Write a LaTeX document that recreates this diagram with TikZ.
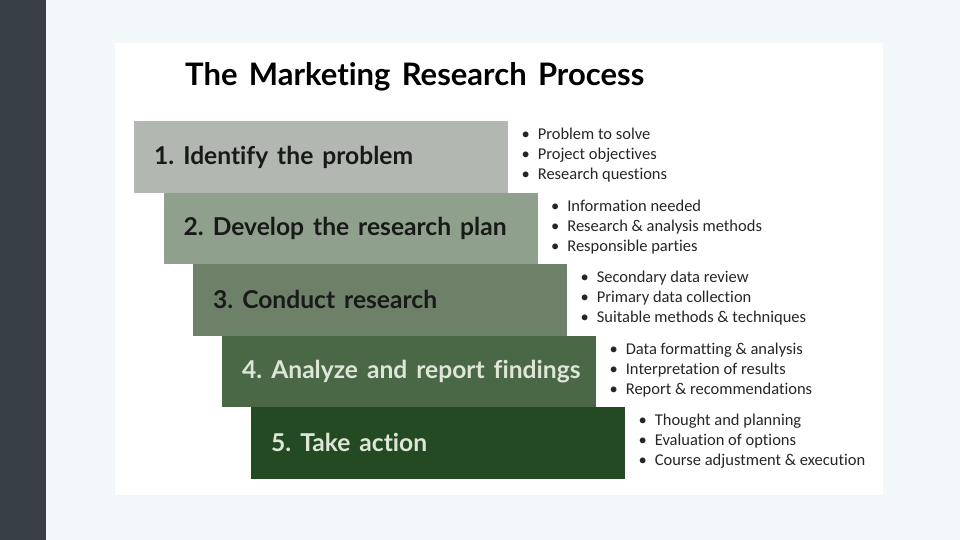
\documentclass[tikz,border=0pt]{standalone}
\usepackage{fontspec}
\setmainfont{Lato}[Ligatures=NoCommon, WordSpace=1.5]
\newfontfamily\listfont{Carlito}[Ligatures=NoCommon]
\usetikzlibrary{positioning}
\definecolor{sidebar}{HTML}{383F47}
\definecolor{pagebg}{HTML}{F2F7FA}
\definecolor{stepone}{HTML}{B2B8B1}
\definecolor{steptwo}{HTML}{8FA08C}
\definecolor{stepthree}{HTML}{6D8168}
\definecolor{stepfour}{HTML}{4B6846}
\definecolor{stepfive}{HTML}{234A22}
\definecolor{lighttext}{HTML}{DDE6D8}
\frenchspacing
\newcommand{\steplabel}[1]{\makebox[334pt][l]{#1}}

\begin{document}
\begin{tikzpicture}[x=1pt, y=-1pt,
  stepbox/.style={anchor=north west, inner sep=0pt, minimum width=374pt, minimum height=71.5pt,
    font=\fontsize{24.6}{28}\selectfont\bfseries},
  points/.style={inner sep=0pt, align=left, text=black!85, font=\listfont\fontsize{16.5}{20}\selectfont}]
  \useasboundingbox (0,0) rectangle (960,540);
  % page background, side bar and white slide area
  \fill[pagebg] (0,0) rectangle (960,540);
  \fill[sidebar] (0,0) rectangle (46,540);
  \fill[white] (115,43) rectangle (883,495);
  \node[anchor=west, inner sep=0pt, font=\fontsize{31}{36}\selectfont\bfseries] (title) at (185,77) {The Marketing Research Process};
  % the five steps, each one shifted right and down
  \node[stepbox, fill=stepone, text=black!90] (s1) at (134,121) {\steplabel{1. Identify the problem}};
  \node[stepbox, fill=steptwo, text=black!90] (s2) at (163.5,192.5) {\steplabel{2. Develop the research plan}};
  \node[stepbox, fill=stepthree, text=black!90] (s3) at (193,264) {\steplabel{3. Conduct research}};
  \node[stepbox, fill=stepfour, text=lighttext] (s4) at (222,335.5) {\steplabel{4. Analyze and report findings}};
  \node[stepbox, fill=stepfive, text=lighttext] (s5) at (251,407) {\steplabel{5. Take action}};
  % what each step covers
  \node[points, right=13pt of s1, yshift=1.5pt] (p1) {\textbullet\hspace{8pt}Problem to solve\\
    \textbullet\hspace{8pt}Project objectives\\ \textbullet\hspace{8pt}Research questions};
  \node[points, right=13pt of s2, yshift=1.5pt] (p2) {\textbullet\hspace{8pt}Information needed\\
    \textbullet\hspace{8pt}Research \& analysis methods\\ \textbullet\hspace{8pt}Responsible parties};
  \node[points, right=13pt of s3, yshift=1.5pt] (p3) {\textbullet\hspace{8pt}Secondary data review\\
    \textbullet\hspace{8pt}Primary data collection\\ \textbullet\hspace{8pt}Suitable methods \& techniques};
  \node[points, right=13pt of s4, yshift=1.5pt] (p4) {\textbullet\hspace{8pt}Data formatting \& analysis\\
    \textbullet\hspace{8pt}Interpretation of results\\ \textbullet\hspace{8pt}Report \& recommendations};
  \node[points, right=13pt of s5, yshift=1.5pt] (p5) {\textbullet\hspace{8pt}Thought and planning\\
    \textbullet\hspace{8pt}Evaluation of options\\ \textbullet\hspace{8pt}Course adjustment \& execution};
\end{tikzpicture}
\end{document}
